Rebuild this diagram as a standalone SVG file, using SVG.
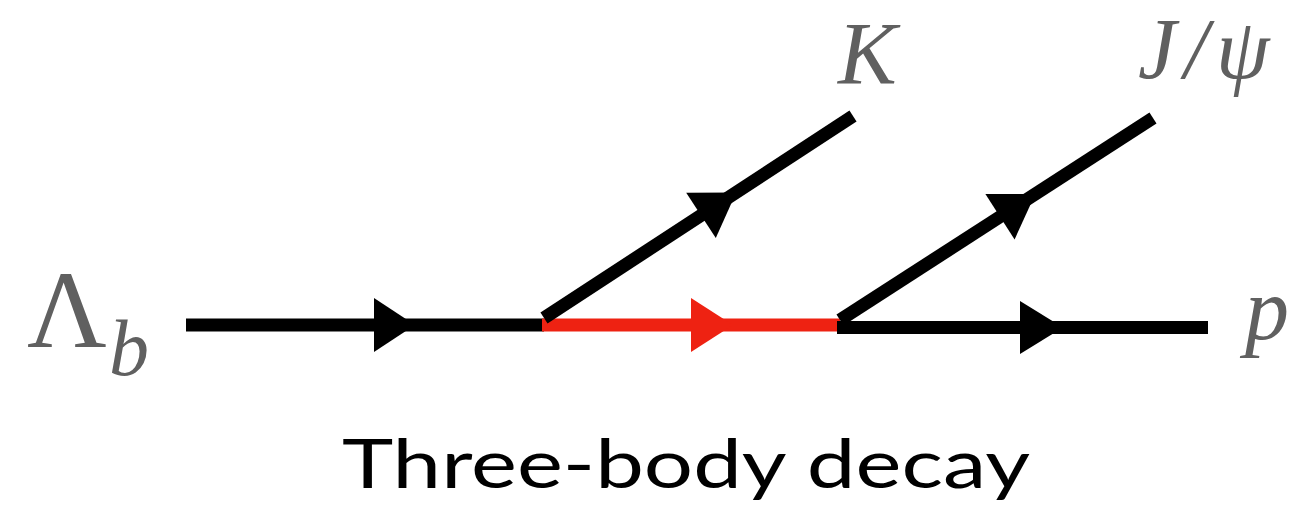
<svg xmlns="http://www.w3.org/2000/svg" width="1297" height="508" viewBox="0 0 1297 508">
  <style>
    .line { stroke: #000; stroke-width: 13; stroke-linecap: butt; fill: none; }
    .line.red { stroke: #ee2212; }
    .head { fill: #000; }
    .head.red { fill: #ee2212; }
    .serif { font-family: "Liberation Serif", "DejaVu Serif", "Times New Roman", serif; fill: #606060; }
    .lbl { font-style: italic; }
    .caption { font-family: Lato, "Liberation Sans", Arial, sans-serif; fill: #000; }
  </style>
  <rect width="1297" height="508" fill="#fff"/>

  <!-- particle labels -->
  <g id="lambda-b">
    <text x="27" y="347" class="serif" font-size="110">Λ</text>
    <text x="109" y="375" class="serif lbl" font-size="80">b</text>
  </g>
  <g id="kaon">
    <text x="838" y="83" class="serif lbl" font-size="88">K</text>
  </g>
  <g id="jpsi">
    <text x="1138" y="78" class="serif lbl" font-size="86" letter-spacing="8">J/ψ</text>
  </g>
  <g id="proton">
    <text x="1245" y="339" class="serif lbl" font-size="88">p</text>
  </g>

  <!-- propagators and arrows -->
  <g id="connectors">
    <!-- incoming Lambda_b -->
    <line class="line" x1="186" y1="325" x2="544" y2="325"/>
    <polygon class="head" points="374,298 415,325 374,352"/>
    <!-- intermediate state -->
    <line class="line red" x1="542" y1="325" x2="840" y2="325"/>
    <polygon class="head red" points="691,298 733,325 691,352"/>
    <!-- K -->
    <line class="line" x1="544" y1="318" x2="853" y2="116"/>
    <polygon class="head" points="686.2,192.8 736.2,192.4 715.8,238"/>
    <!-- J/psi -->
    <line class="line" x1="840" y1="320" x2="1153" y2="118"/>
    <polygon class="head" points="985.4,194 1035.3,193.9 1014.6,239.4"/>
    <!-- proton -->
    <line class="line" x1="837" y1="327.5" x2="1208" y2="327.5"/>
    <polygon class="head" points="1020,301 1063,327.5 1020,354"/>
  </g>

  <g id="caption">
    <text x="342" y="488" class="caption" font-size="67" textLength="688" lengthAdjust="spacingAndGlyphs">Three-body decay</text>
  </g>
</svg>
